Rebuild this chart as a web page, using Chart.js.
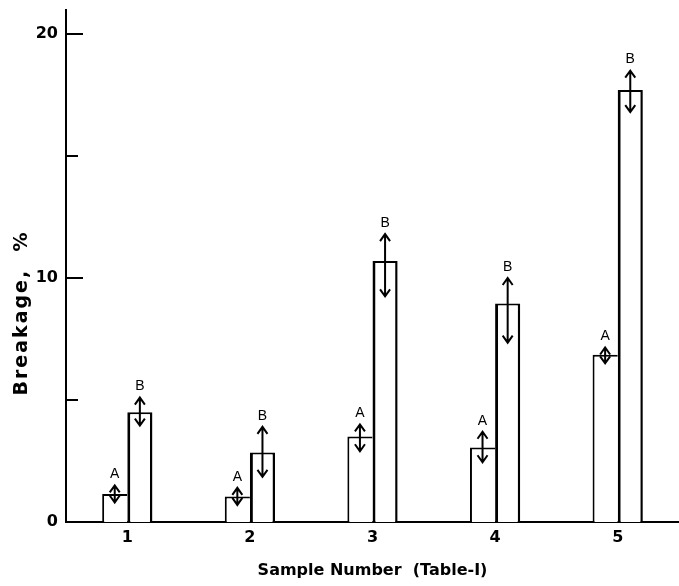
<!DOCTYPE html>
<html>
<head>
<meta charset="utf-8">
<script src="https://cdn.jsdelivr.net/npm/chart.js@4.4.0/dist/chart.umd.min.js"></script>
<style>
  html, body { margin: 0; padding: 0; background: #fff; }
</style>
</head>
<body>
<canvas id="breakageChart" width="679" height="586"></canvas>
<script>
// samples from Table-I
const samples = ['1', '2', '3', '4', '5'];
// breakage, % (bar tops)
const breakageA = [1.15, 1.05, 3.5, 3.05, 6.85];
const breakageB = [4.5, 2.85, 10.7, 8.95, 17.7];
// spread shown by the double arrows, above / below the bar top
const spreadAUp = [0.35, 0.35, 0.5, 0.65, 0.3];
const spreadADown = [0.35, 0.35, 0.6, 0.6, 0.35];
const spreadBUp = [0.6, 1.05, 1.1, 1.05, 0.8];
const spreadBDown = [0.55, 1.0, 1.45, 1.6, 0.9];
// y axis ticks, only the major ones get a label
const yTicks = [0, 5, 10, 15, 20];
const yTickLabels = ['0', '', '10', '', '20'];

const axisFont = { family: '"DejaVu Sans"', size: 16, weight: 'bold' };

// double headed arrows + A / B letters on top of every bar
const arrowPlugin = {
  id: 'arrows',
  afterDatasetsDraw(chart) {
    const ctx = chart.ctx;
    const yScale = chart.scales.y;
    ctx.save();
    ctx.strokeStyle = '#000';
    ctx.fillStyle = '#000';
    ctx.lineWidth = 2;
    ctx.font = '14px "Liberation Sans"';
    ctx.textAlign = 'center';
    ctx.textBaseline = 'bottom';
    chart.data.datasets.forEach((ds, i) => {
      chart.getDatasetMeta(i).data.forEach((bar, j) => {
        const v = ds.data[j];
        const top = yScale.getPixelForValue(v + ds.spreadUp[j]);
        const bottom = yScale.getPixelForValue(v - ds.spreadDown[j]);
        const x = bar.x;
        ctx.beginPath();
        ctx.moveTo(x, top);
        ctx.lineTo(x, bottom);
        ctx.moveTo(x - 5, top + 7);
        ctx.lineTo(x, top);
        ctx.lineTo(x + 5, top + 7);
        ctx.moveTo(x - 5, bottom - 7);
        ctx.lineTo(x, bottom);
        ctx.lineTo(x + 5, bottom - 7);
        ctx.stroke();
        ctx.fillText(ds.label, x, top - 4);
      });
    });
    ctx.restore();
  }
};

// inward tick marks on the y axis and the rotated y title
const axisPlugin = {
  id: 'axisExtras',
  afterDraw(chart) {
    const ctx = chart.ctx;
    const yScale = chart.scales.y;
    const left = chart.chartArea.left;
    ctx.save();
    ctx.strokeStyle = '#000';
    ctx.lineWidth = 2;
    yTicks.forEach(v => {
      if (v === 0) return;
      const py = yScale.getPixelForValue(v);
      const len = v % 10 === 0 ? 17 : 12;
      ctx.beginPath();
      ctx.moveTo(left, py);
      ctx.lineTo(left + len, py);
      ctx.stroke();
    });
    ctx.translate(22, 313);
    ctx.rotate(-Math.PI / 2);
    ctx.fillStyle = '#000';
    ctx.font = 'bold 19px "DejaVu Sans"';
    ctx.letterSpacing = '2px';
    ctx.textAlign = 'center';
    ctx.textBaseline = 'middle';
    ctx.fillText('Breakage,  %', 0, 0);
    ctx.restore();
  }
};

const ctx = document.getElementById('breakageChart');
new Chart(ctx, {
  type: 'bar',
  data: {
    labels: samples,
    datasets: [
      {
        label: 'A',
        data: breakageA,
        spreadUp: spreadAUp,
        spreadDown: spreadADown,
        backgroundColor: '#fff',
        borderColor: '#000',
        // right edge is the left edge of the B bar
        borderWidth: { top: 2, left: 2, right: 0, bottom: 0 }
      },
      {
        label: 'B',
        data: breakageB,
        spreadUp: spreadBUp,
        spreadDown: spreadBDown,
        backgroundColor: '#fff',
        borderColor: '#000',
        borderWidth: { top: 2, left: 3, right: 2.5, bottom: 0 }
      }
    ]
  },
  options: {
    responsive: false,
    animation: false,
    layout: { padding: { top: 8, right: 0, bottom: 0, left: 0 } },
    datasets: {
      bar: { categoryPercentage: 0.41, barPercentage: 1 }
    },
    scales: {
      x: {
        grid: { display: false, drawTicks: false },
        border: { display: true, color: '#000', width: 2 },
        ticks: { color: '#000', font: axisFont, padding: 6 },
        title: {
          display: true,
          text: 'Sample Number  (Table-I)',
          color: '#000',
          font: axisFont,
          padding: { top: 0, bottom: 6 }
        },
        afterFit(scale) { scale.height = 64; }
      },
      y: {
        min: 0,
        max: 21,
        afterBuildTicks(scale) {
          scale.ticks = yTicks.map(v => ({ value: v }));
        },
        grid: { display: false, drawTicks: false },
        border: { display: true, color: '#000', width: 2 },
        ticks: {
          color: '#000',
          // small line height so no extra room is kept above the top of the axis
          font: { family: '"DejaVu Sans"', size: 16, weight: 'bold', lineHeight: 0.2 },
          padding: 8,
          callback: (value, index) => yTickLabels[index]
        },
        afterFit(scale) { scale.width = 66; }
      }
    },
    plugins: {
      legend: { display: false },
      tooltip: { enabled: false }
    }
  },
  plugins: [arrowPlugin, axisPlugin]
});
</script>
</body>
</html>
